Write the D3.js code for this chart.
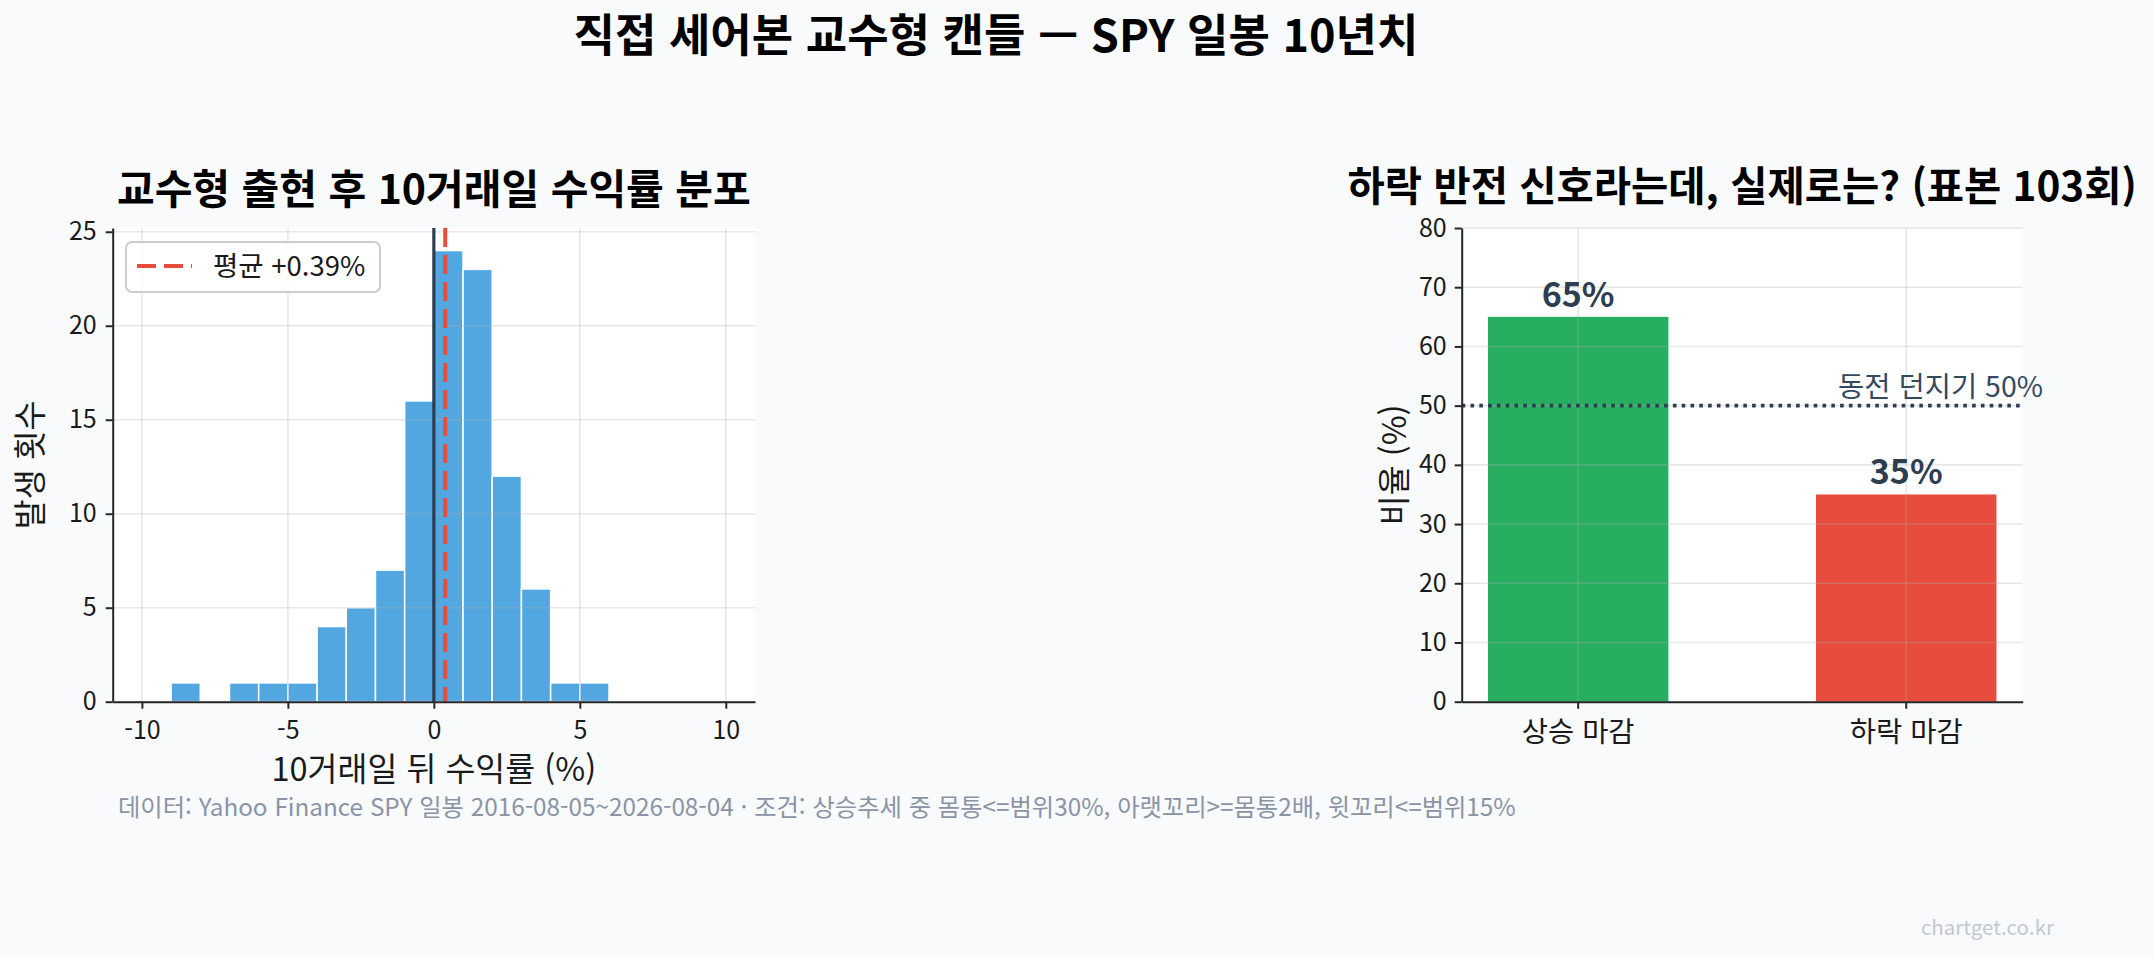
<!DOCTYPE html>
<html lang="ko">
<head>
<meta charset="utf-8">
<script src="https://cdn.jsdelivr.net/npm/d3@7"></script>
<style>
  body { margin: 0; background: #f8fafc; }
  svg { display: block; font-family: "Noto Sans CJK KR", "Noto Sans", sans-serif; }
</style>
</head>
<body>
<script>
// ---- data ----
// histogram: lower edge of each 1%-wide bin and how many hammer candles fell in it
const binStarts = [-9, -8, -7, -6, -5, -4, -3, -2, -1, 0, 1, 2, 3, 4, 5];
const binCounts = [1, 0, 1, 1, 1, 4, 5, 7, 16, 24, 23, 12, 6, 1, 1];
const binWidth = 1;
const meanReturn = 0.39;
const histXTicks = [-10, -5, 0, 5, 10];
const histYTicks = [0, 5, 10, 15, 20, 25];

// outcome split after the hammer
const outcomeLabels = ["상승 마감", "하락 마감"];
const outcomeShares = [65, 35];
const outcomeColors = ["#27ae60", "#e74c3c"];
const coinFlip = 50;
const shareTicks = [0, 10, 20, 30, 40, 50, 60, 70, 80];

const W = 2154, H = 957;
const ink = "#262626";
const slate = "#2c3e50";
const fontFam = '"Noto Sans CJK KR", "Noto Sans", sans-serif';

const svg = d3.select("body").append("svg")
  .attr("width", W).attr("height", H)
  .attr("viewBox", `0 0 ${W} ${H}`);

svg.append("rect").attr("width", W).attr("height", H).attr("fill", "#f8fafc");

// suptitle
svg.append("text")
  .attr("x", 996).attr("y", 52)
  .attr("text-anchor", "middle")
  .attr("font-size", 45).attr("font-weight", 700).attr("fill", "#000")
  .text("직접 세어본 교수형 캔들 — SPY 일봉 10년치");

// panel boxes
const L = {x0: 112.7, x1: 755, y0: 228, y1: 701.7};
const R = {x0: 1461.7, x1: 2022.7, y0: 228, y1: 701.7};

function styleAxis(g, size) {
  g.attr("font-size", null).attr("font-family", null);
  g.select(".domain").attr("stroke", ink).attr("stroke-width", 2);
  g.selectAll(".tick line").attr("stroke", ink).attr("stroke-width", 2);
  g.selectAll(".tick text")
    .attr("fill", "#1a1a1a")
    .attr("font-size", size)
    .attr("font-family", fontFam);
}

function gridLines(g, xs, ys, box) {
  const grid = g.append("g").attr("stroke", "#b0b0b0").attr("stroke-opacity", 0.3).attr("stroke-width", 1.6);
  grid.selectAll(".gx").data(xs).join("line")
    .attr("x1", d => d).attr("x2", d => d)
    .attr("y1", box.y0).attr("y2", box.y1);
  grid.selectAll(".gy").data(ys).join("line")
    .attr("y1", d => d).attr("y2", d => d)
    .attr("x1", box.x0).attr("x2", box.x1);
}

// ================= left: histogram =================
const xHist = d3.scaleLinear().domain([-11, 11]).range([L.x0, L.x1]);
const yHist = d3.scaleLinear().domain([0, 25.2]).range([L.y1, L.y0]);

const left = svg.append("g");
left.append("rect")
  .attr("x", L.x0).attr("y", L.y0)
  .attr("width", L.x1 - L.x0).attr("height", L.y1 - L.y0)
  .attr("fill", "#ffffff");

const bins = binStarts.map((s, i) => ({start: s, count: binCounts[i]})).filter(d => d.count > 0);
left.append("g").selectAll("rect")
  .data(bins)
  .join("rect")
    .attr("x", d => xHist(d.start))
    .attr("y", d => yHist(d.count))
    .attr("width", d => xHist(d.start + binWidth) - xHist(d.start))
    .attr("height", d => yHist(0) - yHist(d.count))
    .attr("fill", "#3498db").attr("fill-opacity", 0.85)
    .attr("stroke", "#ffffff").attr("stroke-width", 1.5);

gridLines(left, histXTicks.map(xHist), histYTicks.map(yHist), L);

// zero line and mean line
left.append("line")
  .attr("x1", xHist(0)).attr("x2", xHist(0))
  .attr("y1", L.y0).attr("y2", L.y1)
  .attr("stroke", slate).attr("stroke-width", 3.2);
left.append("line")
  .attr("x1", xHist(meanReturn)).attr("x2", xHist(meanReturn))
  .attr("y1", L.y0).attr("y2", L.y1)
  .attr("stroke", "#e74c3c").attr("stroke-width", 4)
  .attr("stroke-dasharray", "19,8");

const hx = left.append("g").attr("transform", `translate(0,${L.y1})`)
  .call(d3.axisBottom(xHist).tickValues(histXTicks).tickFormat(d => String(d))
    .tickSize(7).tickSizeOuter(0).tickPadding(13));
styleAxis(hx, 25);
const hy = left.append("g").attr("transform", `translate(${L.x0},0)`)
  .call(d3.axisLeft(yHist).tickValues(histYTicks).tickFormat(d => String(d))
    .tickSize(7).tickSizeOuter(0).tickPadding(9));
styleAxis(hy, 25);

// legend
const leg = left.append("g");
leg.append("rect")
  .attr("x", 126).attr("y", 242).attr("width", 254).attr("height", 50).attr("rx", 6)
  .attr("fill", "#ffffff").attr("fill-opacity", 0.8)
  .attr("stroke", "#cccccc").attr("stroke-width", 2);
leg.append("line")
  .attr("x1", 137).attr("x2", 192).attr("y1", 266).attr("y2", 266)
  .attr("stroke", "#e74c3c").attr("stroke-width", 4).attr("stroke-dasharray", "19,8");
leg.append("text")
  .attr("x", 213).attr("y", 276)
  .attr("font-size", 27.5).attr("fill", "#1a1a1a")
  .text(`평균 +${meanReturn.toFixed(2)}%`);

left.append("text")
  .attr("x", (L.x0 + L.x1) / 2).attr("y", 204)
  .attr("text-anchor", "middle")
  .attr("font-size", 41).attr("font-weight", 700).attr("fill", "#000")
  .text("교수형 출현 후 10거래일 수익률 분포");
left.append("text")
  .attr("x", (L.x0 + L.x1) / 2).attr("y", 781)
  .attr("text-anchor", "middle")
  .attr("font-size", 32.5).attr("fill", "#1a1a1a")
  .text("10거래일 뒤 수익률 (%)");
left.append("text")
  .attr("transform", `translate(42,${(L.y0 + L.y1) / 2}) rotate(-90)`)
  .attr("text-anchor", "middle")
  .attr("font-size", 32.5).attr("fill", "#1a1a1a")
  .text("발생 횟수");

// ================= right: outcome bars =================
const xBar = d3.scaleBand().domain(outcomeLabels).range([R.x0, R.x1])
  .paddingInner(0.45).paddingOuter(0.08);
const yBar = d3.scaleLinear().domain([0, 80]).range([R.y1, R.y0]);

const right = svg.append("g");
right.append("rect")
  .attr("x", R.x0).attr("y", R.y0)
  .attr("width", R.x1 - R.x0).attr("height", R.y1 - R.y0)
  .attr("fill", "#ffffff");

const outcomes = outcomeLabels.map((k, i) => ({label: k, share: outcomeShares[i], color: outcomeColors[i]}));
right.append("g").selectAll("rect")
  .data(outcomes)
  .join("rect")
    .attr("x", d => xBar(d.label))
    .attr("y", d => yBar(d.share))
    .attr("width", xBar.bandwidth())
    .attr("height", d => yBar(0) - yBar(d.share))
    .attr("fill", d => d.color);

gridLines(right, outcomeLabels.map(k => xBar(k) + xBar.bandwidth() / 2), shareTicks.map(yBar), R);

right.append("line")
  .attr("x1", R.x0).attr("x2", R.x1)
  .attr("y1", yBar(coinFlip)).attr("y2", yBar(coinFlip))
  .attr("stroke", slate).attr("stroke-width", 3.6)
  .attr("stroke-dasharray", "3.6,5.2");
right.append("text")
  .attr("x", 2043).attr("y", yBar(coinFlip) - 9)
  .attr("text-anchor", "end")
  .attr("font-size", 28.5).attr("fill", "#34495e")
  .text(`동전 던지기 ${coinFlip}%`);

right.append("g").selectAll("text")
  .data(outcomes)
  .join("text")
    .attr("x", d => xBar(d.label) + xBar.bandwidth() / 2)
    .attr("y", d => yBar(d.share) - 10)
    .attr("text-anchor", "middle")
    .attr("font-size", 34).attr("font-weight", 700).attr("fill", slate)
    .text(d => `${d.share}%`);

const bx = right.append("g").attr("transform", `translate(0,${R.y1})`)
  .call(d3.axisBottom(xBar).tickSize(7).tickSizeOuter(0).tickPadding(13));
styleAxis(bx, 28.5);
const by = right.append("g").attr("transform", `translate(${R.x0},0)`)
  .call(d3.axisLeft(yBar).tickValues(shareTicks).tickFormat(d => String(d))
    .tickSize(7).tickSizeOuter(0).tickPadding(8));
styleAxis(by, 25);

right.append("text")
  .attr("x", (R.x0 + R.x1) / 2).attr("y", 201)
  .attr("text-anchor", "middle")
  .attr("font-size", 40.5).attr("font-weight", 700).attr("fill", "#000")
  .text("하락 반전 신호라는데, 실제로는? (표본 103회)");
right.append("text")
  .attr("transform", `translate(1406,${(R.y0 + R.y1) / 2}) rotate(-90)`)
  .attr("text-anchor", "middle")
  .attr("font-size", 32.5).attr("fill", "#1a1a1a")
  .text("비율 (%)");

// footer + watermark
svg.append("text")
  .attr("x", 118).attr("y", 816)
  .attr("font-size", 24.3).attr("fill", "#8a94a6")
  .text("데이터: Yahoo Finance SPY 일봉 2016-08-05~2026-08-04 · 조건: 상승추세 중 몸통<=범위30%, 아랫꼬리>=몸통2배, 윗꼬리<=범위15%");
svg.append("text")
  .attr("x", 2054).attr("y", 935)
  .attr("text-anchor", "end")
  .attr("font-size", 20.5).attr("fill", "#c3c8d0")
  .text("chartget.co.kr");
</script>
</body>
</html>
